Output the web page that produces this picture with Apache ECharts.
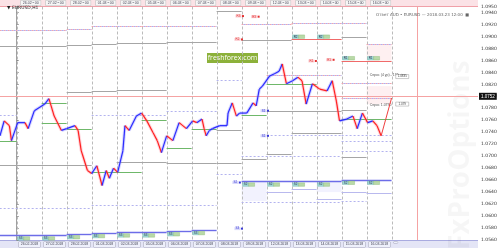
<!DOCTYPE html>
<html><head><meta charset="utf-8">
<script src="https://cdn.jsdelivr.net/npm/echarts@6/dist/echarts.min.js"></script>
<style>html,body{margin:0;padding:0;background:#fff}#c{width:500px;height:248px}</style>
</head><body><div id="c"></div>
<script>
// ---- data (hours from first day separator; prices) ----
const priceHours = [-16,-12,-7,-5,1,8,11,17,27,31,36,43,48,56,59,62,68,72,77,82,86,89,93,97,102,104,108,115,120,125,131,135,139,144,150,156,163,169,173,178,180,182,185,188,195,202,203,207,211,214,221,227,230,233,236,243,248,252,255,259,265,270,274,278,284,291,298,303,307,310,317,323,327,332,337,342,346,350];
const priceValues = [1.0734,1.0759,1.0751,1.0726,1.0756,1.0756,1.0746,1.0776,1.0787,1.0796,1.0767,1.0743,1.0746,1.0751,1.0743,1.0709,1.0676,1.0671,1.0684,1.0651,1.0676,1.0663,1.0680,1.0673,1.0709,1.0751,1.0743,1.0767,1.0772,1.0759,1.0739,1.0726,1.0706,1.0734,1.0726,1.0756,1.0746,1.0759,1.0756,1.0762,1.0746,1.0734,1.0743,1.0746,1.0751,1.0751,1.0772,1.0789,1.0767,1.0772,1.0772,1.0789,1.0784,1.0812,1.0817,1.0834,1.0838,1.0842,1.0854,1.0821,1.0826,1.0832,1.0826,1.0787,1.0821,1.0812,1.0809,1.0826,1.0792,1.0759,1.0762,1.0767,1.0746,1.0772,1.0756,1.0759,1.0751,1.0734];
const projHours = [350,360];
const projValues = [1.0734,1.0797];
const currentPrice = 1.0752;
const markerHour = 385;
const dayStarts = [0,24,48,72,96,120,144,168,192,216,240,264,288,312,336,360];
const topLabels = ["26.02 • 00","27.02 • 00","28.02 • 00","01.03 • 00","02.03 • 00","05.03 • 00","06.03 • 00","07.03 • 00","08.03 • 00","09.03 • 00","12.03 • 00","13.03 • 00","14.03 • 00","15.03 • 00","16.03 • 00"];
const bottomLabels = ["23.02.2018","26.02.2018","27.02.2018","28.02.2018","01.03.2018","02.03.2018","05.03.2018","06.03.2018","07.03.2018","08.03.2018","09.03.2018","12.03.2018","13.03.2018","14.03.2018","15.03.2018","16.03.2018"];
const yMin = 1.0560, yMax = 1.0950, yStep = 0.0020;
// levels: [startDay, endDay, price]
const grayLevels = [[-1,1,1.0884],[2,2,1.0885],[3,3,1.0887],[4,5,1.0889],[6,7,1.0890],[8,8,1.0942],[9,10,1.0894],[13,13,1.0899],[2,2,1.0807],[3,3,1.0809],[4,5,1.0811],[-1,2,1.0686],[4,5,1.0691],[6,7,1.0689],[8,8,1.0744],[8,8,1.0689],[9,9,1.0696],[10,12,1.0776],[10,10,1.0703],[11,12,1.0738],[13,13,1.0777],[13,13,1.0699]];
const mixedDashLevels = [[-1,1,1.0910],[2,2,1.0913],[3,4,1.0917],[5,7,1.0918],[9,10,1.0920],[11,13,1.0923],[14,14,1.0887],[10,12,1.0835],[13,14,1.0823],[13,14,1.0797]];
const blueDashLevels = [[-1,-1,1.0769],[3,5,1.0769],[6,7,1.0776],[8,8,1.0827],[10,12,1.0736],[9,12,1.0701],[13,14,1.0736],[13,14,1.0726],[13,14,1.0709],[-1,2,1.0613],[3,7,1.0618],[8,8,1.0671],[9,12,1.0623],[13,13,1.0625]];
const greenLevels = [[-1,-1,1.0726],[1,1,1.0789],[1,1,1.0756],[2,2,1.0746],[5,5,1.0761],[6,6,1.0713],[7,7,1.0746],[9,9,1.0769],[13,14,1.0762],[3,4,1.0673],[10,11,1.0821]];
const blueSolidLevels = [[-1,1,1.0568],[2,2,1.0570],[3,3,1.0572],[4,5,1.0573],[6,6,1.0575],[7,7,1.0577],[9,12,1.0658],[13,14,1.0661]];
const lavenderLevels = [[10,10,1.0640],[11,11,1.0645],[12,12,1.0628],[13,13,1.0640],[14,14,1.0638]];
const redLevels = [[11,12,1.0895],[13,14,1.0859]];
// shaded zones: [startDay, endDay, priceHigh, priceLow]
const pinkZones = [[14,14,1.0887,1.0859],[14,14,1.0817,1.0787]];
const lavenderZones = [[9,9,1.0658,1.0625],[12,12,1.0658,1.0640]];
// level tags: [day, price, text]
const tagsBelow = [[0,1.0568,"S3"],[1,1.0568,"S3"],[2,1.0570,"S3"],[3,1.0572,"S3"],[4,1.0573,"S3"],[5,1.0573,"S3"],[6,1.0575,"S3"],[7,1.0577,"S3"],[9,1.0658,"S2"],[10,1.0658,"S2"],[11,1.0658,"S2"],[12,1.0658,"S2"],[13,1.0661,"S2"],[14,1.0661,"S2"]];
const tagsAbove = [[11,1.0895,"R2"],[12,1.0895,"R2"],[13,1.0859,"R1"],[14,1.0859,"R1"]];
// small markers: [hour, price, text]
const pinkMarks = [[213,1.0934,"R3"],[228,1.0933,"R3"],[212,1.0895,"R2"],[283,1.0859,"R1"],[300,1.0861,"R1"]];
const blueMarks = [[237,1.0776,"S1"],[237,1.0734,"S1"],[210,1.0656,"S2"],[212,1.0579,"S3"]];
const notes = [[339,1.0836,"Спрос (4 ур) - 195 pips"],[339,1.0786,"Спрос 1.0790"]];
const noteBoxes = [[364,1.0833,"1.0835"],[364,1.0787,"1.0790"]];

// ---- chart ----
const chart = echarts.init(document.getElementById('c'), null, {renderer:'canvas'});
const segData = priceHours.slice(1).map((h,i)=>[priceHours[i],priceValues[i],h,priceValues[i+1]]);

function levelSeries(data, stroke, width, dash, offset, z){
  return {type:'custom', data, z, silent:true, encode:{x:0,y:2},
    renderItem:(p,api)=>{
      const a=api.coord([api.value(0)*24, api.value(2)]);
      const b=api.coord([(api.value(1)+1)*24, api.value(2)]);
      const y=Math.round(a[1])+0.5;
      return {type:'line', shape:{x1:a[0],y1:y,x2:b[0],y2:y},
        style:{stroke, lineWidth:width, lineDash:dash, lineDashOffset:offset||0}};
    }};
}
function zoneSeries(data, fill){
  return {type:'custom', data, z:1, silent:true, encode:{x:0,y:2},
    renderItem:(p,api)=>{
      const a=api.coord([api.value(0)*24, api.value(2)]);
      const b=api.coord([(api.value(1)+1)*24, api.value(3)]);
      return {type:'rect', shape:{x:a[0],y:a[1],width:b[0]-a[0],height:b[1]-a[1]}, style:{fill}};
    }};
}
function tagSeries(data, below){
  return {type:'custom', data, z:6, silent:true, encode:{x:0,y:1},
    renderItem:(p,api)=>{
      const a=api.coord([api.value(0)*24, api.value(1)]);
      const y = below ? a[1]+1.5 : a[1]-4.5;
      return {type:'group', children:[
        {type:'rect', shape:{x:a[0]+1,y,width:6,height:3.5}, style:{fill:'#9fd9d4',stroke:'#6fb3ad',lineWidth:0.4}},
        {type:'rect', shape:{x:a[0]+7,y,width:6,height:3.5}, style:{fill:'#b9d9a8',stroke:'#86b872',lineWidth:0.4}},
        {type:'text', style:{text:api.value(2), x:a[0]+4, y:y+1.8, fill:'#335', font:'3px sans-serif', align:'center', verticalAlign:'middle'}}
      ]};
    }};
}
function markSeries(data, fill, color){
  return {type:'custom', data, z:7, silent:true, encode:{x:0,y:1},
    renderItem:(p,api)=>{
      const a=api.coord([api.value(0), api.value(1)]);
      return {type:'group', children:[
        {type:'rect', shape:{x:a[0]-3,y:a[1]-1.5,width:6,height:3}, style:{fill}},
        {type:'text', style:{text:api.value(2), x:a[0], y:a[1], fill:color, font:'3px sans-serif', align:'center', verticalAlign:'middle'}},
        {type:'rect', shape:{x:a[0]+3.5,y:a[1]-1,width:2,height:2}, style:{fill:color}}
      ]};
    }};
}

const option = {
  animation:false,
  backgroundColor:'#fff',
  title:[
    {text:'▼ EURUSD,H1', left:2, top:0, textStyle:{fontSize:4.5, fontWeight:'normal', color:'#222', fontFamily:'DejaVu Sans'}},
    {text:'Ответ AUD • EURUSD — 2018.03.23 12:00  ■', right:26, top:7.5, textStyle:{fontSize:4, fontWeight:'normal', color:'#666', fontFamily:'DejaVu Sans'}}
  ],
  grid:{left:0, right:22, top:6, bottom:8},
  xAxis:[
    {type:'value', min:-16, max:443, position:'bottom',
      axisLine:{show:false}, axisTick:{show:false}, splitLine:{show:false},
      axisLabel:{customValues:[-14].concat(dayStarts.map(d=>d+2)), align:'left', margin:2, fontSize:3.5, color:'#445',
        backgroundColor:'#eef0fb', borderColor:'#aab', borderWidth:0.5, padding:[0.5,2],
        formatter:v=>bottomLabels[Math.round((v-2)/24)+1]||''}},
    {type:'value', min:-16, max:443, position:'top',
      axisLine:{show:false}, axisTick:{show:false}, splitLine:{show:false},
      axisLabel:{customValues:dayStarts.slice(0,15).map(d=>d+4), align:'left', margin:1, fontSize:3.5, color:'#445',
        backgroundColor:'#f6f6f6', borderColor:'#bbb', borderWidth:0.5, padding:[0.5,2],
        formatter:v=>topLabels[Math.round((v-4)/24)]||''}}
  ],
  yAxis:{type:'value', position:'right', min:yMin, max:yMax, interval:yStep,
    axisLine:{show:true, lineStyle:{color:'#888', width:0.8}},
    axisTick:{show:true, length:2, lineStyle:{color:'#888'}},
    splitLine:{show:false},
    axisLabel:{fontSize:4.5, color:'#333', margin:3, formatter:v=>v.toFixed(4), fontFamily:'DejaVu Sans'}},
  graphic:[
    {type:'rect', shape:{x:0,y:0,width:478,height:6}, style:{fill:'#fbe2e6'}, z:-1, silent:true},
    {type:'line', shape:{x1:0,y1:6.5,x2:478,y2:6.5}, style:{stroke:'#f0a0a8', lineWidth:1}, z:-1, silent:true},
    {type:'rect', shape:{x:0,y:240,width:478,height:8}, style:{fill:'#e4e5f6'}, z:-1, silent:true},
    {type:'line', shape:{x1:0,y1:240.5,x2:478,y2:240.5}, style:{stroke:'#a9abe0', lineWidth:1}, z:-1, silent:true},
    {type:'text', x:461, y:250, rotation:Math.PI/2, z:0, silent:true,
      style:{text:'FxProOptions', font:'bold 28px "Open Sans"', fill:'rgba(0,0,0,0.035)', align:'left', verticalAlign:'middle'}},
    {type:'group', left:207, top:53, z:20, silent:true, children:[
      {type:'rect', shape:{x:0,y:0,width:51,height:10}, style:{fill:'#8cb13a'}},
      {type:'text', x:25.5, y:5.2, style:{text:'freshforex.com', font:'7px "Open Sans"', fill:'#fff', align:'center', verticalAlign:'middle'}}
    ]}
  ],
  series:[
    // day separators
    {type:'custom', data:dayStarts, z:2, silent:true, encode:{x:0},
      renderItem:(p,api)=>{
        const a=api.coord([api.value(0), yMax]);
        const x=Math.round(a[0])+0.5;
        return {type:'line', shape:{x1:x,y1:p.coordSys.y,x2:x,y2:p.coordSys.y+p.coordSys.height},
          style:{stroke:'#bbbbbb', lineWidth:1, lineDash:[3,2]}};
      }},
    zoneSeries(pinkZones, 'rgba(250,200,205,0.28)'),
    zoneSeries(lavenderZones, 'rgba(205,205,250,0.25)'),
    levelSeries(grayLevels, '#a6a6a6', 1, null, 0, 3),
    levelSeries(mixedDashLevels, '#f2a6ae', 1, [2,2], 0, 3),
    levelSeries(mixedDashLevels, '#b0b0f0', 1, [2,2], 2, 3),
    levelSeries(blueDashLevels, '#b3b3ef', 1, [2,2], 0, 3),
    levelSeries(greenLevels, '#6fb86a', 1, null, 0, 4),
    levelSeries(blueSolidLevels, '#6d6de8', 1.4, null, 0, 4),
    levelSeries(lavenderLevels, '#b9b9ee', 1, null, 0, 4),
    levelSeries(redLevels, '#f06a6a', 1.2, null, 0, 4),
    tagSeries(tagsBelow, true),
    tagSeries(tagsAbove, false),
    markSeries(pinkMarks, '#fbd0d4', '#e53030'),
    markSeries(blueMarks, '#d8d8fa', '#3838d8'),
    {type:'custom', data:notes, z:7, silent:true, encode:{x:0,y:1},
      renderItem:(p,api)=>{const a=api.coord([api.value(0),api.value(1)]);
        return {type:'text', style:{text:api.value(2), x:a[0], y:a[1], fill:'#555', font:'3.5px sans-serif', verticalAlign:'middle'}};}},
    {type:'custom', data:noteBoxes, z:7, silent:true, encode:{x:0,y:1},
      renderItem:(p,api)=>{const a=api.coord([api.value(0),api.value(1)]);
        return {type:'group', children:[
          {type:'rect', shape:{x:a[0],y:a[1]-2,width:13,height:4}, style:{fill:'#fff', stroke:'#999', lineWidth:0.5}},
          {type:'text', style:{text:api.value(2), x:a[0]+6.5, y:a[1], fill:'#444', font:'3px sans-serif', align:'center', verticalAlign:'middle'}}]};}},
    // price halo
    {type:'custom', data:segData, z:8, silent:true, encode:{x:[0,2],y:[1,3]},
      renderItem:(p,api)=>{const a=api.coord([api.value(0),api.value(1)]), b=api.coord([api.value(2),api.value(3)]);
        return {type:'line', shape:{x1:a[0],y1:a[1],x2:b[0],y2:b[1]},
          style:{stroke: api.value(3)>=api.value(1)?'rgba(120,120,255,0.3)':'rgba(255,120,140,0.3)', lineWidth:3.2}};}},
    // price
    {type:'custom', data:segData, z:9, silent:true, encode:{x:[0,2],y:[1,3]},
      renderItem:(p,api)=>{const a=api.coord([api.value(0),api.value(1)]), b=api.coord([api.value(2),api.value(3)]);
        return {type:'line', shape:{x1:a[0],y1:a[1],x2:b[0],y2:b[1]},
          style:{stroke: api.value(3)>=api.value(1)?'#2a2aff':'#ff2020', lineWidth:1.2}};}},
    // projection + markers
    {type:'line', data:projHours.map((h,i)=>[h,projValues[i]]), z:9, symbol:'none', silent:true,
      lineStyle:{color:'#f04040', width:1},
      markLine:{silent:true, symbol:'none', animation:false,
        data:[
          {yAxis:currentPrice, lineStyle:{color:'#f5a3a3', width:1, type:'solid'},
            label:{show:true, position:'end', distance:1, formatter:currentPrice.toFixed(4), backgroundColor:'#111', color:'#fff', fontSize:4.5, padding:[1,2]}},
          {xAxis:markerHour, lineStyle:{color:'#f5a3a3', width:1, type:'solid'}, label:{show:false}}
        ]}}
  ]
};
chart.setOption(option);
</script></body></html>
